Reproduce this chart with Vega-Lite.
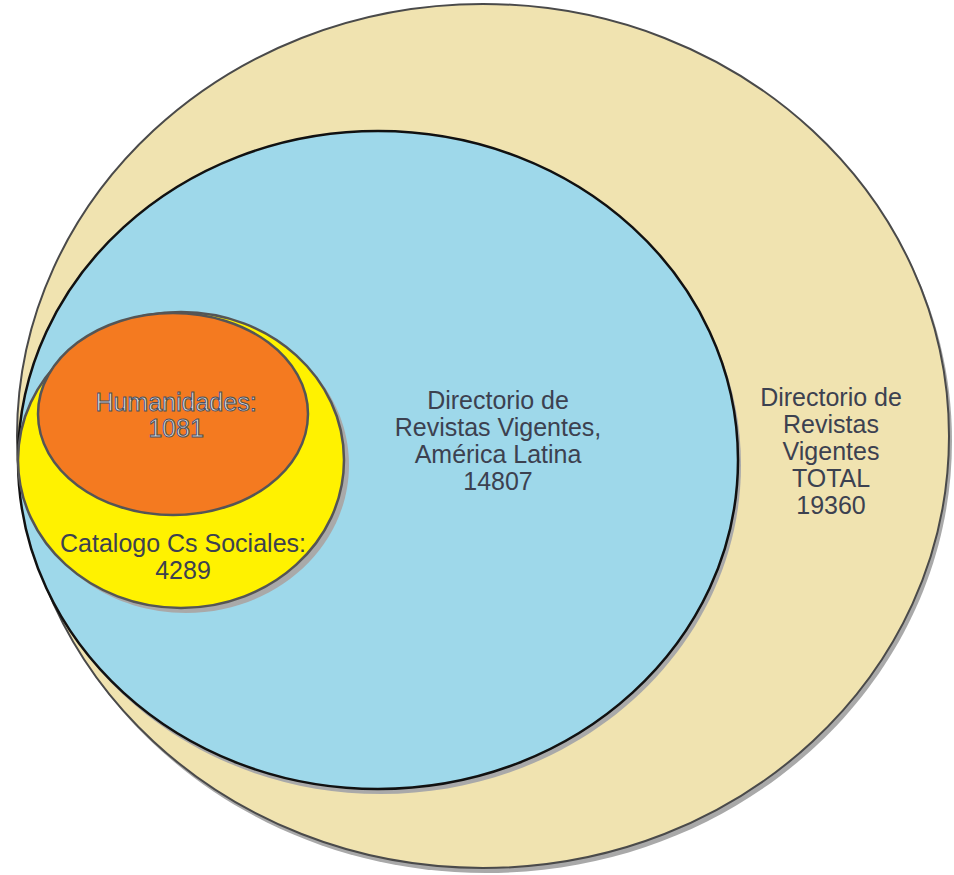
{
  "$schema": "https://vega.github.io/schema/vega-lite/v6.json",
  "description": "Directorio de Revistas Vigentes: conjuntos anidados",
  "width": 954,
  "height": 875,
  "padding": 0,
  "autosize": "none",
  "background": "white",
  "config": {"view": {"stroke": null}},
  "data": {
    "values": [
      {"set": "Directorio TOTAL", "revistas": 19360, "x": 483, "y": 436, "tx": 831, "ty": 398, "label": "Directorio de\nRevistas\nVigentes\nTOTAL\n19360"},
      {"set": "America Latina", "revistas": 14807, "x": 378, "y": 460, "tx": 498, "ty": 401, "label": "Directorio de\nRevistas Vigentes,\nAmérica Latina\n14807"},
      {"set": "Catalogo Cs Sociales", "revistas": 4289, "x": 181, "y": 460, "tx": 183, "ty": 544, "label": "Catalogo Cs Sociales:\n4289"},
      {"set": "Humanidades", "revistas": 1081, "x": 173, "y": 414, "tx": 176, "ty": 403, "label": "Humanidades:\n1081"}
    ]
  },
  "encoding": {
    "x": {"field": "x", "type": "quantitative", "scale": {"domain": [0, 954], "nice": false, "zero": false}, "axis": null},
    "y": {"field": "y", "type": "quantitative", "scale": {"domain": [0, 875], "nice": false, "zero": false, "reverse": true}, "axis": null}
  },
  "layer": [
    {
      "transform": [{"filter": "datum.set === 'Directorio TOTAL'"}],
      "mark": {"type": "point", "filled": true, "size": 4, "opacity": 1, "fill": "#a9a9a9", "strokeWidth": 0, "xOffset": 3, "yOffset": 5},
      "encoding": {
        "shape": {"field": "set", "type": "nominal", "legend": null, "scale": {"domain": ["Directorio TOTAL", "America Latina", "Catalogo Cs Sociales", "Humanidades"], "range": ["M-466,0A466,432,0,1,0,466,0A466,432,0,1,0,-466,0Z", "M-360,0A360,329,0,1,0,360,0A360,329,0,1,0,-360,0Z", "M-163,0A163,148,0,1,0,163,0A163,148,0,1,0,-163,0Z", "M-135,0A135,101,0,1,0,135,0A135,101,0,1,0,-135,0Z"]}}
      }
    },
    {
      "transform": [{"filter": "datum.set === 'Directorio TOTAL'"}],
      "mark": {"type": "point", "filled": true, "size": 4, "opacity": 1, "fill": "#f0e3b0", "stroke": "#4a4a4a", "strokeWidth": 2},
      "encoding": {"shape": {"field": "set", "type": "nominal", "legend": null}}
    },
    {
      "transform": [{"filter": "datum.set === 'America Latina'"}],
      "mark": {"type": "point", "filled": true, "size": 4, "opacity": 1, "fill": "#a9a9a9", "strokeWidth": 0, "xOffset": 3, "yOffset": 5},
      "encoding": {"shape": {"field": "set", "type": "nominal", "legend": null}}
    },
    {
      "transform": [{"filter": "datum.set === 'America Latina'"}],
      "mark": {"type": "point", "filled": true, "size": 4, "opacity": 1, "fill": "#9ed8ea", "stroke": "#111111", "strokeWidth": 2.5},
      "encoding": {"shape": {"field": "set", "type": "nominal", "legend": null}}
    },
    {
      "transform": [{"filter": "datum.set === 'Catalogo Cs Sociales'"}],
      "mark": {"type": "point", "filled": true, "size": 4, "opacity": 1, "fill": "#a9a9a9", "strokeWidth": 0, "xOffset": 5, "yOffset": 5},
      "encoding": {"shape": {"field": "set", "type": "nominal", "legend": null}}
    },
    {
      "transform": [{"filter": "datum.set === 'Catalogo Cs Sociales'"}],
      "mark": {"type": "point", "filled": true, "size": 4, "opacity": 1, "fill": "#fff200", "stroke": "#555555", "strokeWidth": 2.5},
      "encoding": {"shape": {"field": "set", "type": "nominal", "legend": null}}
    },
    {
      "transform": [{"filter": "datum.set === 'Humanidades'"}],
      "mark": {"type": "point", "filled": true, "size": 4, "opacity": 1, "fill": "#f47a20", "stroke": "#555555", "strokeWidth": 2.5},
      "encoding": {"shape": {"field": "set", "type": "nominal", "legend": null}}
    },
    {
      "transform": [{"filter": "datum.set === 'Humanidades'"}],
      "mark": {"type": "text", "lineBreak": "\n", "font": "Liberation Sans", "fontSize": 25, "lineHeight": 26, "align": "center", "baseline": "middle", "fill": "#dcdfe4", "stroke": "#4b505c", "strokeWidth": 1},
      "encoding": {
        "x": {"field": "tx", "type": "quantitative"},
        "y": {"field": "ty", "type": "quantitative"},
        "text": {"field": "label"}
      }
    },
    {
      "transform": [{"filter": "datum.set !== 'Humanidades'"}],
      "mark": {"type": "text", "lineBreak": "\n", "font": "Liberation Sans", "fontSize": 25, "lineHeight": 27, "align": "center", "baseline": "middle", "fill": "#3c4150"},
      "encoding": {
        "x": {"field": "tx", "type": "quantitative"},
        "y": {"field": "ty", "type": "quantitative"},
        "text": {"field": "label"}
      }
    }
  ]
}
